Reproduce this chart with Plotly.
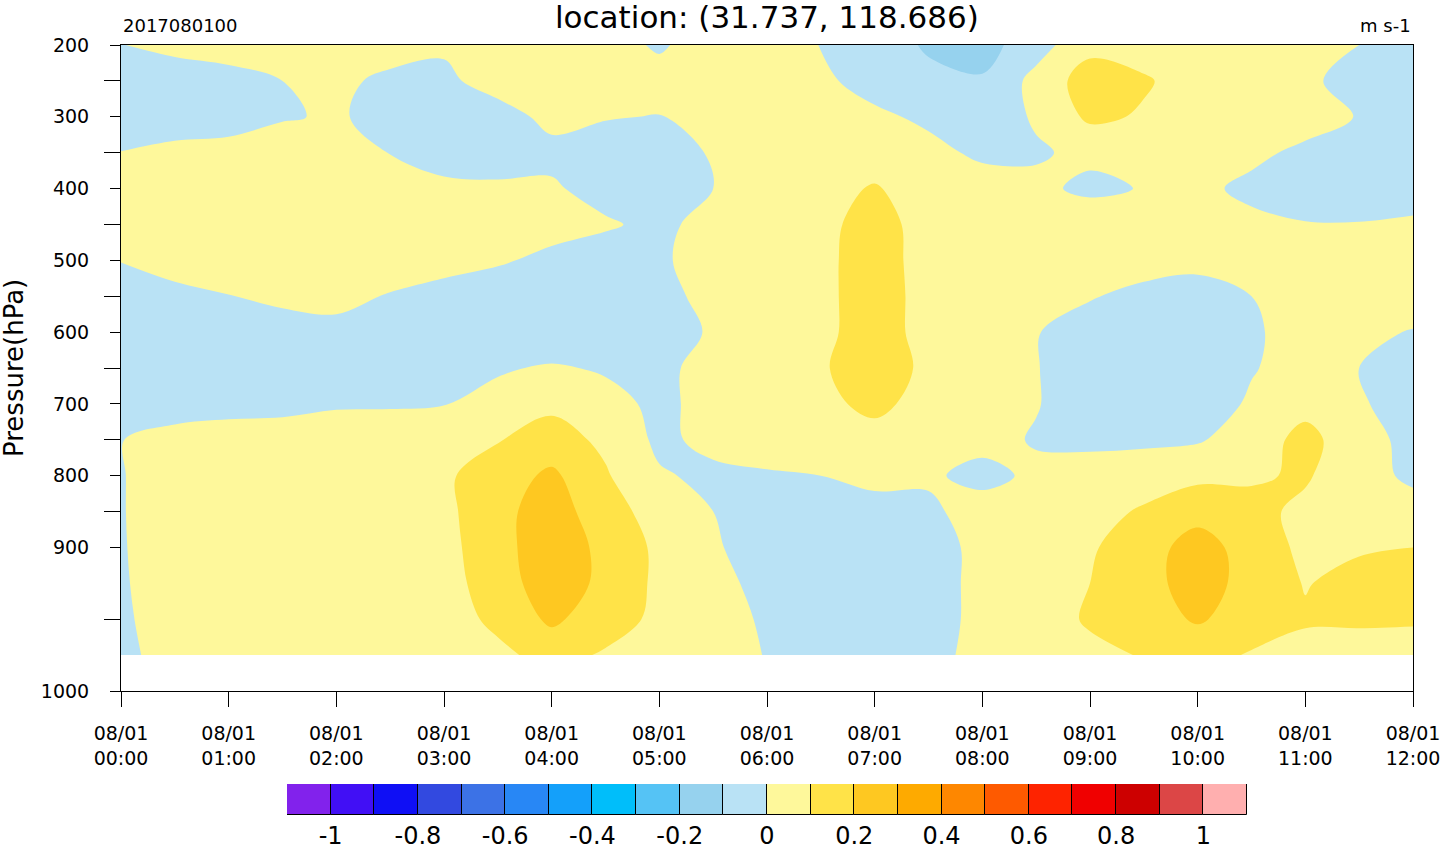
import plotly.graph_objects as go

# ---------------- data ----------------
hours = [0, 0.5, 1, 1.5, 2, 2.5, 3, 3.5, 4, 4.5, 5, 5.5, 6,
         6.5, 7, 7.5, 8, 8.5, 9, 9.5, 10, 10.5, 11, 11.5, 12]
hour_ticks = [0, 1, 2, 3, 4, 5, 6, 7, 8, 9, 10, 11, 12]
time_labels = ["08/01<br>%02d:00" % h for h in hour_ticks]

pressure_levels = [200, 250, 300, 350, 400, 450, 500, 550, 600,
                   650, 700, 750, 800, 850, 900, 925, 950, 975]
axis_levels = pressure_levels + [1000]
labeled_levels = [200, 300, 400, 500, 600, 700, 800, 900, 1000]
minor_levels = [250, 350, 450, 550, 650, 750, 850, 950]

# wind component (m s-1) at each level, one value per half hour
w200 = [-0.003, 0.03, 0.05, 0.06, 0.06, 0.06, 0.01, 0.04, 0.05, 0.03, -0.01, 0.04, 0.04, -0.002, -0.06, -0.11, -0.14, -0.04, 0.07, 0.06, 0.05, 0.04, 0.03, 0.0, -0.04]
w250 = [-0.06, -0.06, -0.04, 0.0, 0.03, -0.03, -0.015, 0.03, 0.05, 0.04, 0.03, 0.05, 0.05, 0.02, -0.04, -0.08, -0.09, 0.03, 0.15, 0.11, 0.06, 0.05, 0.02, -0.04, -0.05]
w300 = [-0.05, -0.06, -0.05, -0.008, 0.01, -0.03, -0.05, -0.03, 0.02, 0.005, -0.003, 0.03, 0.05, 0.04, 0.02, -0.02, -0.05, 0.01, 0.12, 0.09, 0.06, 0.05, 0.04, -0.005, -0.04]
w350 = [0.002, 0.03, 0.04, 0.05, 0.03, -0.002, -0.04, -0.06, -0.02, -0.04, -0.05, 0.01, 0.05, 0.06, 0.07, 0.03, -0.02, -0.01, 0.02, 0.04, 0.05, 0.02, -0.02, -0.05, -0.05]
w400 = [0.05, 0.06, 0.07, 0.07, 0.06, 0.04, 0.02, 0.02, 0.01, -0.03, -0.03, 0.0, 0.06, 0.08, 0.105, 0.07, 0.05, 0.02, -0.02, 0.005, 0.02, -0.02, -0.05, -0.06, -0.06]
w450 = [0.04, 0.06, 0.07, 0.07, 0.07, 0.06, 0.05, 0.04, 0.03, 0.01, -0.02, 0.03, 0.06, 0.08, 0.13, 0.07, 0.05, 0.04, 0.06, 0.05, 0.04, 0.02, 0.005, 0.005, 0.02]
w500 = [0.002, 0.03, 0.04, 0.05, 0.05, 0.04, 0.03, 0.01, -0.02, -0.04, -0.01, 0.03, 0.06, 0.08, 0.14, 0.065, 0.05, 0.04, 0.03, 0.03, 0.02, 0.03, 0.05, 0.05, 0.04]
w550 = [-0.03, -0.02, -0.002, 0.015, 0.02, -0.005, -0.03, -0.05, -0.06, -0.05, -0.03, 0.03, 0.06, 0.08, 0.14, 0.07, 0.05, 0.03, 0.005, -0.02, -0.03, 0.0, 0.04, 0.05, 0.05]
w600 = [-0.05, -0.05, -0.04, -0.03, -0.02, -0.03, -0.05, -0.06, -0.07, -0.06, -0.04, 0.01, 0.05, 0.08, 0.14, 0.07, 0.05, 0.003, -0.03, -0.05, -0.05, -0.01, 0.03, 0.02, -0.005]
w650 = [-0.05, -0.06, -0.06, -0.05, -0.05, -0.04, -0.03, -0.01, 0.01, -0.01, -0.02, 0.03, 0.06, 0.09, 0.15, 0.08, 0.05, 0.003, -0.04, -0.06, -0.05, -0.005, 0.03, 0.0, -0.04]
w700 = [-0.04, -0.04, -0.03, -0.03, -0.01, -0.01, -0.003, 0.03, 0.08, 0.03, -0.02, 0.03, 0.06, 0.08, 0.12, 0.07, 0.05, 0.005, -0.05, -0.06, -0.04, 0.01, 0.07, 0.01, -0.04]
w750 = [-0.002, 0.03, 0.04, 0.05, 0.05, 0.06, 0.07, 0.095, 0.14, 0.08, -0.02, 0.025, 0.07, 0.06, 0.07, 0.05, 0.03, -0.008, -0.02, -0.02, -0.01, 0.05, 0.13, 0.04, -0.03]
w800 = [-0.003, 0.03, 0.04, 0.05, 0.06, 0.07, 0.085, 0.15, 0.22, 0.11, 0.01, -0.02, -0.015, 0.0, 0.03, 0.015, -0.03, 0.02, 0.04, 0.06, 0.08, 0.09, 0.11, 0.04, -0.02]
w850 = [-0.003, 0.03, 0.04, 0.05, 0.06, 0.07, 0.075, 0.17, 0.25, 0.14, 0.06, 0.0, -0.04, -0.05, -0.04, -0.02, 0.045, 0.05, 0.07, 0.11, 0.16, 0.125, 0.08, 0.05, 0.04]
w900 = [-0.004, 0.03, 0.04, 0.05, 0.06, 0.07, 0.07, 0.16, 0.27, 0.17, 0.08, 0.01, -0.04, -0.06, -0.06, -0.03, 0.02, 0.06, 0.09, 0.15, 0.25, 0.15, 0.08, 0.09, 0.10]
w925 = [-0.006, 0.03, 0.04, 0.05, 0.06, 0.07, 0.07, 0.14, 0.27, 0.17, 0.08, 0.02, -0.02, -0.05, -0.06, -0.03, 0.02, 0.06, 0.10, 0.16, 0.25, 0.16, 0.095, 0.13, 0.14]
w950 = [-0.01, 0.03, 0.04, 0.05, 0.05, 0.06, 0.06, 0.12, 0.22, 0.14, 0.08, 0.03, -0.01, -0.04, -0.05, -0.03, 0.02, 0.06, 0.11, 0.16, 0.21, 0.16, 0.11, 0.11, 0.11]
w975 = [-0.015, 0.025, 0.03, 0.04, 0.04, 0.05, 0.05, 0.08, 0.13, 0.09, 0.07, 0.03, -0.003, -0.03, -0.04, -0.02, 0.02, 0.05, 0.08, 0.105, 0.14, 0.09, 0.07, 0.07, 0.06]

wind = [w200, w250, w300, w350, w400, w450, w500, w550, w600,
        w650, w700, w750, w800, w850, w900, w925, w950, w975]

# contour levels and fill colours
level_start, level_end, level_step = -1.0, 1.0, 0.1
fill_colors = ["#8222EC", "#410FF5", "#0F0FF5", "#3249E0", "#3C72E6", "#2887F5",
               "#14A0FA", "#00BEFA", "#55C3F5", "#96D2EE", "#B9E2F5", "#FEF89B",
               "#FFE348", "#FEC821", "#FEAA00", "#FE8700", "#FE5A00", "#FE2300",
               "#F00000", "#CD0000", "#DC4646", "#FFAFAF"]
cb_tick_values = [-1, -0.8, -0.6, -0.4, -0.2, 0, 0.2, 0.4, 0.6, 0.8, 1]
cb_tick_text = ["-1", "-0.8", "-0.6", "-0.4", "-0.2", "0", "0.2", "0.4", "0.6", "0.8", "1"]

# ---------------- derived ----------------
ypos = [axis_levels.index(p) for p in pressure_levels]
n = len(fill_colors)
colorscale = []
for k, c in enumerate(fill_colors):
    lo = max(0.0, (k - 0.5) / (n - 1))
    hi = min(1.0, (k + 0.5) / (n - 1))
    colorscale.append([lo, c])
    colorscale.append([hi, c])

cb_centers = [round(level_start - level_step / 2 + k * level_step, 3) for k in range(n)]

FONT = "DejaVu Sans"
W, H = 1440, 846
L, R, T, B = 121, 27, 45, 0
pw, ph = W - L - R, H - T - B


def px_x(x):
    return (x - L) / pw


def px_y(y):
    return (H - B - y) / ph


fig = go.Figure()
fig.add_trace(go.Contour(
    x=hours, y=ypos, z=wind,
    colorscale=colorscale,
    autocontour=False,
    contours=dict(start=level_start, end=level_end, size=level_step,
                  coloring="fill", showlines=False),
    line=dict(width=0, smoothing=1.0),
    showscale=False, hoverinfo="skip",
    xaxis="x", yaxis="y",
))

# label bar (colour key)
fig.add_trace(go.Bar(
    x=cb_centers, y=[1] * n, width=[level_step] * n,
    marker=dict(color=fill_colors, line=dict(color="black", width=1)),
    xaxis="x2", yaxis="y2", showlegend=False, hoverinfo="skip",
))

fig.update_layout(
    width=W, height=H,
    margin=dict(l=L, r=R, t=T, b=B, autoexpand=False),
    paper_bgcolor="white", plot_bgcolor="white",
    font=dict(family=FONT, color="black"),
    showlegend=False,
    xaxis=dict(
        domain=[0, 1], range=[0, 12], anchor="y",
        tickmode="array", tickvals=hour_ticks, ticktext=time_labels,
        ticks="outside", ticklen=15, tickwidth=1, tickcolor="black",
        showline=True, linecolor="black", linewidth=1, mirror=True,
        showgrid=False, zeroline=False,
        tickfont=dict(size=19, family=FONT),
        ticklabelstandoff=10, ticklabeloverflow="allow",
    ),
    yaxis=dict(
        domain=[px_y(691), 1], range=[len(axis_levels) - 1, 0], anchor="x",
        tickmode="array",
        tickvals=[axis_levels.index(p) for p in labeled_levels],
        ticktext=[str(p) for p in labeled_levels],
        ticks="outside", ticklen=10, tickwidth=1, tickcolor="black",
        minor=dict(tickmode="array",
                   tickvals=[axis_levels.index(p) for p in minor_levels],
                   ticks="outside", ticklen=16, tickwidth=1, tickcolor="black",
                   showgrid=False),
        showline=True, linecolor="black", linewidth=1, mirror=True,
        showgrid=False, zeroline=False,
        tickfont=dict(size=19, family=FONT),
        ticklabelstandoff=17,
    ),
    xaxis2=dict(
        domain=[px_x(287), px_x(1247)], range=[level_start - level_step, level_end + level_step],
        anchor="y2", tickmode="array", tickvals=cb_tick_values, ticktext=cb_tick_text,
        ticks="", showline=False, showgrid=False, zeroline=False,
        tickfont=dict(size=24, family=FONT), ticklabeloverflow="allow",
        ticklabelstandoff=4,
    ),
    yaxis2=dict(
        domain=[px_y(815), px_y(784)], range=[0, 1], anchor="x2",
        visible=False,
    ),
    bargap=0,
    annotations=[
        dict(text="location: (31.737, 118.686)", x=0.5, y=px_y(17),
             xref="paper", yref="paper", xanchor="center", yanchor="middle",
             showarrow=False, font=dict(size=31, family=FONT)),
        dict(text="2017080100", x=0, y=px_y(26), xref="paper", yref="paper",
             xanchor="left", yanchor="middle", showarrow=False,
             font=dict(size=18, family=FONT)),
        dict(text="m s-1", x=1, y=px_y(26), xref="paper", yref="paper",
             xanchor="right", yanchor="middle", showarrow=False,
             font=dict(size=18, family=FONT)),
        dict(text="Pressure(hPa)", x=px_x(14), y=px_y(368), xref="paper", yref="paper",
             xanchor="center", yanchor="middle", textangle=-90, showarrow=False,
             font=dict(size=26, family=FONT)),
    ],
)

fig.write_html("out.html",
               config={"displayModeBar": False},
               post_script="document.body.style.margin='0px';"
                           "document.body.style.overflow='hidden';")
